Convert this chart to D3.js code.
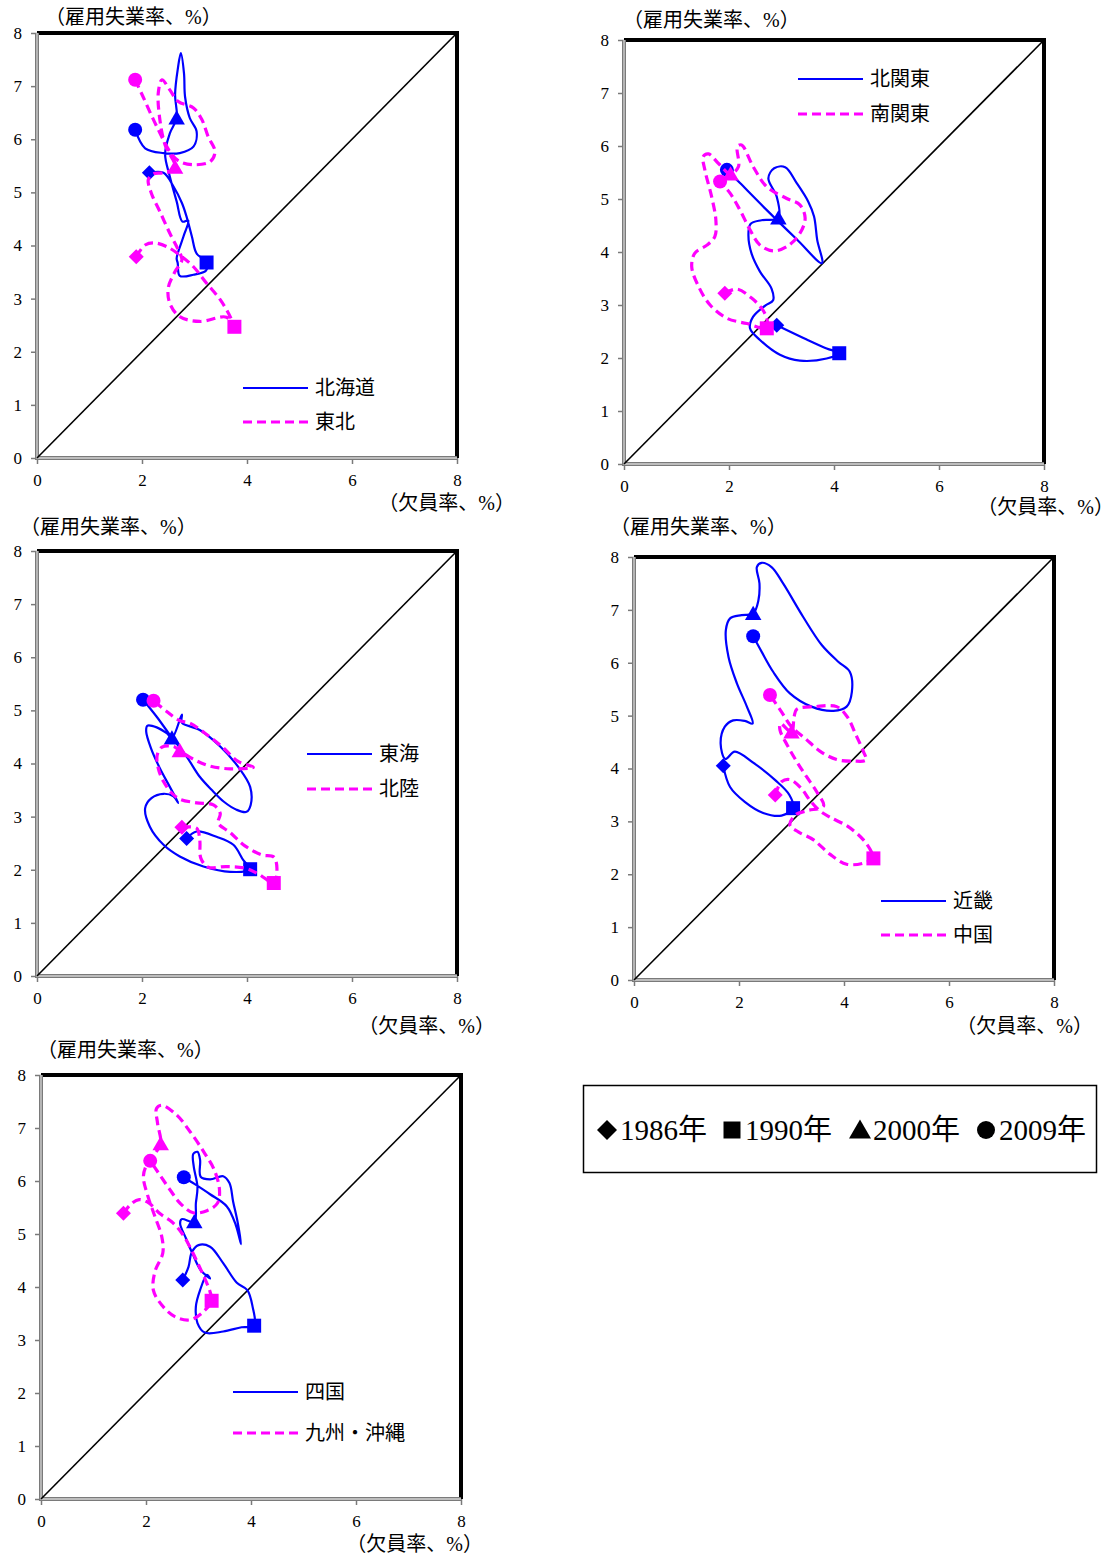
<!DOCTYPE html>
<html>
<head>
<meta charset="utf-8">
<script src="https://cdn.jsdelivr.net/npm/d3@7"></script>
<style>
  body { margin: 0; background: #fff; }
  svg text { font-family: "Liberation Serif", "Noto Sans CJK JP", serif; fill: #000; }
</style>
</head>
<body>
<div id="chart"></div>
<script>
// 欠員率 (x) と 雇用失業率 (y)
const hokkaidoV = [2.14,2.41,2.60,2.76,2.85,2.95,3.04,3.23,3.22,2.98,2.72,2.68,2.66,2.79,2.88,2.77,2.66,2.53,2.44,2.53,2.66,2.63,2.68,2.74,2.80,2.82,2.91,3.04,2.98,2.72,2.41,2.06,1.87];
const hokkaidoU = [5.37,5.37,5.11,4.80,4.54,4.17,3.85,3.68,3.53,3.45,3.43,3.67,3.76,4.17,4.47,4.45,4.83,5.30,5.72,6.11,6.40,6.84,7.31,7.62,7.24,6.80,6.40,6.15,5.86,5.74,5.74,5.83,6.18];
const hokkaidoMarks = [0, 7, 20, 32];

const tohokuV = [1.89,2.06,2.22,2.47,2.76,2.98,3.23,3.49,3.68,3.76,3.61,3.10,2.72,2.53,2.50,2.63,2.76,2.69,2.53,2.34,2.18,2.12,2.22,2.41,2.63,2.44,2.34,2.31,2.38,2.53,2.69,2.98,3.14,3.26,3.39,3.30,2.98,2.72,2.57,2.28,2.02,1.87];
const tohokuU = [3.79,4.01,4.05,3.98,3.79,3.60,3.29,2.98,2.66,2.47,2.65,2.57,2.66,2.91,3.20,3.51,3.73,3.92,4.23,4.64,4.98,5.24,5.35,5.37,5.47,5.89,6.37,6.87,7.12,6.93,6.71,6.59,6.37,6.05,5.77,5.58,5.52,5.58,5.71,6.24,6.80,7.12];
const tohokuMarks = [0, 9, 24, 41];

const kitakantoV = [2.91,3.48,3.86,4.10,3.86,3.35,2.97,2.59,2.40,2.46,2.69,2.84,2.81,2.59,2.43,2.37,2.41,2.62,2.94,2.91,2.75,2.86,3.07,3.29,3.51,3.62,3.68,3.77,3.29,2.72,2.21,1.96];
const kitakantoU = [2.62,2.35,2.18,2.09,1.99,1.95,2.06,2.34,2.56,2.78,2.99,3.09,3.31,3.63,3.97,4.32,4.53,4.60,4.64,5.04,5.39,5.58,5.60,5.30,4.95,4.67,4.23,3.79,4.24,4.79,5.30,5.55];
const kitakantoMarks = [0, 3, 18, 31];

const minamikantoV = [1.92,2.15,2.43,2.62,2.72,2.72,2.34,1.96,1.64,1.42,1.29,1.35,1.58,1.73,1.75,1.67,1.54,1.51,1.61,1.80,2.03,2.18,2.16,2.24,2.46,2.72,3.10,3.35,3.45,3.35,3.10,2.84,2.59,2.40,2.21,2.02,1.83];
const minamikantoU = [3.22,3.30,3.13,2.94,2.75,2.56,2.65,2.75,3.00,3.35,3.72,3.98,4.13,4.29,4.60,5.04,5.55,5.80,5.85,5.67,5.47,5.61,5.99,6.02,5.61,5.23,5.01,4.89,4.64,4.35,4.10,4.02,4.13,4.42,4.79,5.11,5.33];
const minamikantoMarks = [0, 5, 20, 36];

const tokaiV = [2.85,3.04,3.42,3.74,3.93,4.06,3.68,3.17,2.72,2.41,2.15,2.06,2.18,2.41,2.60,2.69,2.53,2.34,2.17,2.08,2.10,2.28,2.47,2.57,2.76,2.76,3.10,3.49,3.83,4.06,4.07,3.99,3.80,3.56,3.34,3.10,2.85,2.53,2.28,2.02];
const tokaiU = [2.59,2.72,2.62,2.47,2.18,2.01,1.96,2.06,2.25,2.47,2.81,3.16,3.35,3.43,3.38,3.26,3.56,3.91,4.29,4.60,4.71,4.68,4.57,4.48,4.92,4.77,4.63,4.32,3.94,3.56,3.22,3.09,3.13,3.28,3.49,3.75,4.13,4.54,4.88,5.20];
const tokaiMarks = [0, 5, 23, 39];

const hokurikuV = [2.76,3.04,3.10,3.12,3.26,3.61,3.96,4.22,4.51,4.57,4.51,4.28,3.96,3.68,3.45,3.49,3.36,3.04,2.72,2.57,2.41,2.31,2.29,2.38,2.60,2.72,2.98,3.30,3.68,4.12,3.83,3.52,3.20,2.91,2.71,2.47,2.22];
const hokurikuU = [2.80,2.78,2.56,2.22,2.05,2.06,2.03,1.92,1.75,2.03,2.24,2.28,2.45,2.70,2.88,3.06,3.22,3.26,3.33,3.44,3.66,3.91,4.16,4.31,4.32,4.24,4.08,3.95,3.90,3.93,4.04,4.32,4.57,4.76,4.81,4.98,5.18];
const hokurikuMarks = [0, 8, 25, 36];

const kinkiV = [1.70,1.83,2.11,2.46,2.81,3.03,2.96,2.69,2.27,1.92,1.74,1.65,1.73,1.89,2.11,2.26,2.15,1.96,1.80,1.75,1.83,2.05,2.27,2.37,2.39,2.34,2.43,2.62,2.84,3.22,3.58,3.89,4.11,4.15,4.05,3.80,3.38,2.97,2.65,2.43,2.27];
const kinkiU = [4.05,3.65,3.37,3.16,3.11,3.25,3.50,3.78,4.11,4.32,4.18,4.47,4.79,4.91,4.90,4.85,5.17,5.61,6.11,6.62,6.84,6.90,6.93,7.18,7.50,7.81,7.89,7.81,7.50,6.87,6.33,6.02,5.83,5.45,5.17,5.09,5.17,5.42,5.83,6.21,6.50];
const kinkiMarks = [0, 5, 22, 40];

const chugokuV = [2.69,2.81,2.97,3.19,3.35,3.54,3.73,4.08,4.37,4.53,4.56,4.37,4.05,3.73,3.42,3.13,2.97,3.07,3.29,3.61,3.48,3.29,3.10,2.92,2.78,2.79,3.00,3.05,3.10,3.45,3.86,4.06,4.23,4.37,4.42,4.18,3.86,3.54,3.26,3.00,2.81,2.59];
const chugokuU = [3.50,3.75,3.79,3.62,3.40,3.20,3.08,2.90,2.65,2.41,2.30,2.21,2.19,2.38,2.65,2.80,2.93,3.12,3.20,3.29,3.56,3.84,4.13,4.44,4.73,4.85,4.69,4.98,5.12,5.17,5.17,4.98,4.63,4.32,4.16,4.14,4.17,4.33,4.57,4.79,5.07,5.39];
const chugokuMarks = [0, 10, 26, 41];

const shikokuV = [2.70,2.81,2.87,3.00,3.22,3.47,3.73,3.93,4.03,4.06,3.82,3.47,3.12,2.98,2.95,3.03,3.16,3.22,3.04,2.89,2.76,2.65,2.68,2.92,2.95,2.98,2.91,2.90,2.98,3.03,3.04,3.22,3.47,3.59,3.66,3.75,3.81,3.71,3.54,3.22,2.93,2.72];
const shikokuU = [4.13,4.38,4.65,4.79,4.76,4.45,4.08,3.94,3.63,3.27,3.24,3.16,3.14,3.32,3.63,3.94,4.23,4.16,4.32,4.62,4.92,5.20,5.28,5.23,5.58,5.89,6.27,6.51,6.55,6.40,6.08,6.03,6.09,5.96,5.61,5.20,4.81,5.17,5.52,5.75,5.94,6.07];
const shikokuMarks = [0, 9, 23, 41];

const kyushuV = [1.57,1.71,1.87,2.06,2.27,2.49,2.68,2.85,3.00,3.12,3.22,3.25,3.09,2.84,2.55,2.30,2.14,2.17,2.32,2.30,2.17,2.04,1.95,2.01,2.17,2.28,2.22,2.20,2.30,2.58,2.84,3.10,3.30,3.40,3.36,3.16,2.90,2.65,2.46,2.28,2.15,2.08];
const kyushuU = [5.39,5.56,5.65,5.58,5.38,5.23,5.02,4.73,4.42,4.16,3.91,3.74,3.53,3.38,3.44,3.66,3.94,4.29,4.64,4.95,5.33,5.70,6.08,6.30,6.52,6.70,7.09,7.37,7.43,7.25,6.93,6.55,6.21,5.83,5.58,5.44,5.40,5.58,5.83,6.09,6.28,6.38];
const kyushuMarks = [0, 11, 25, 41];

const markYears = ['1986年', '1990年', '2000年', '2009年'];
const markShapes = ['diamond', 'square', 'triangle', 'circle'];
const xTicks = [0, 2, 4, 6, 8];
const yTicks = [0, 1, 2, 3, 4, 5, 6, 7, 8];
const yTitle = '（雇用失業率、%）';
const xTitle = '（欠員率、%）';

const W = 1115, H = 1555;
const BLUE = '#0000ff', PINK = '#ff00ff';
const FONT = '"Liberation Serif", "Noto Sans CJK JP", serif';

// layout of the five panels
const panels = [
  { left: 37, top: 33, w: 420, h: 425, yt: [45, 17], xtRight: 515, xtY: 503, leg: [243, 388, 422],
    series: [
      { name: '北海道', v: hokkaidoV, u: hokkaidoU, m: hokkaidoMarks },
      { name: '東北', v: tohokuV, u: tohokuU, m: tohokuMarks }] },
  { left: 624, top: 40, w: 420, h: 424, yt: [623, 20], xtRight: 1114, xtY: 507, leg: [798, 79, 114],
    series: [
      { name: '北関東', v: kitakantoV, u: kitakantoU, m: kitakantoMarks },
      { name: '南関東', v: minamikantoV, u: minamikantoU, m: minamikantoMarks }] },
  { left: 37, top: 551, w: 420, h: 425, yt: [20, 527], xtRight: 495, xtY: 1026, leg: [307, 754, 789],
    series: [
      { name: '東海', v: tokaiV, u: tokaiU, m: tokaiMarks },
      { name: '北陸', v: hokurikuV, u: hokurikuU, m: hokurikuMarks }] },
  { left: 634, top: 557, w: 420, h: 423, yt: [610, 527], xtRight: 1093, xtY: 1026, leg: [881, 901, 935],
    series: [
      { name: '近畿', v: kinkiV, u: kinkiU, m: kinkiMarks },
      { name: '中国', v: chugokuV, u: chugokuU, m: chugokuMarks }] },
  { left: 41, top: 1075, w: 420, h: 424, yt: [37, 1050], xtRight: 483, xtY: 1544, leg: [233, 1392, 1433],
    series: [
      { name: '四国', v: shikokuV, u: shikokuU, m: shikokuMarks },
      { name: '九州・沖縄', v: kyushuV, u: kyushuU, m: kyushuMarks }] }
];

const svg = d3.select('#chart').append('svg')
  .attr('width', W).attr('height', H)
  .style('display', 'block');

svg.append('rect').attr('width', W).attr('height', H).attr('fill', '#fff');

function markPath(shape, r) {
  if (shape === 'diamond') return `M0,${-r}L${r},0L0,${r}L${-r},0Z`;
  if (shape === 'square') return `M${-r},${-r}h${2 * r}v${2 * r}h${-2 * r}Z`;
  if (shape === 'triangle') return `M0,${-r * 1.05}L${r * 1.1},${r * 0.85}L${-r * 1.1},${r * 0.85}Z`;
  return d3.arc()({ innerRadius: 0, outerRadius: r, startAngle: 0, endAngle: 2 * Math.PI });
}
const markSize = { diamond: 7.5, square: 7, triangle: 7.5, circle: 7 };

function drawPanel(p) {
  const g = svg.append('g');
  const x = d3.scaleLinear().domain([0, 8]).range([p.left, p.left + p.w]);
  const y = d3.scaleLinear().domain([0, 8]).range([p.top + p.h, p.top]);
  const bottom = p.top + p.h, right = p.left + p.w;

  // y axis
  g.append('g')
    .attr('transform', `translate(${p.left},0)`)
    .attr('font-family', FONT)
    .call(d3.axisLeft(y).tickValues(yTicks).tickSize(6).tickPadding(9).tickFormat(d3.format('d')))
    .call(a => a.select('.domain').remove())
    .call(a => a.selectAll('.tick line').attr('stroke', '#7a7a7a').attr('stroke-width', 1.5))
    .call(a => a.selectAll('.tick text').style('font-size', '17px').style('font-family', FONT));

  // x axis
  g.append('g')
    .attr('transform', `translate(0,${bottom})`)
    .call(d3.axisBottom(x).tickValues(xTicks).tickSize(6).tickPadding(10).tickFormat(d3.format('d')))
    .call(a => a.select('.domain').remove())
    .call(a => a.selectAll('.tick line').attr('stroke', '#7a7a7a').attr('stroke-width', 1.5))
    .call(a => a.selectAll('.tick text').style('font-size', '17px').style('font-family', FONT));

  // frame: heavy black top/right, grey double left/bottom
  g.append('path')
    .attr('d', `M${p.left},${p.top}H${right}V${bottom}`)
    .attr('fill', 'none').attr('stroke', '#000').attr('stroke-width', 4);
  g.append('path')
    .attr('d', `M${p.left},${p.top}V${bottom}H${right}`)
    .attr('fill', 'none').attr('stroke', '#7a7a7a').attr('stroke-width', 4);
  g.append('path')
    .attr('d', `M${p.left},${p.top}V${bottom}H${right}`)
    .attr('fill', 'none').attr('stroke', '#d4d4d4').attr('stroke-width', 1.3);

  // 45 degree line
  g.append('line')
    .attr('x1', x(0)).attr('y1', y(0)).attr('x2', x(8)).attr('y2', y(8))
    .attr('stroke', '#000').attr('stroke-width', 1.6);

  // axis titles
  g.append('text').attr('x', p.yt[0]).attr('y', p.yt[1] + 7)
    .style('font-size', '20px').text(yTitle);
  g.append('text').attr('x', p.xtRight).attr('y', p.xtY + 7)
    .attr('text-anchor', 'end').style('font-size', '20px').text(xTitle);

  p.series.forEach((s, k) => {
    const color = k === 0 ? BLUE : PINK;
    const path = d3.line()
      .x(i => x(s.v[i]))
      .y(i => y(s.u[i]))
      .curve(d3.curveCatmullRom.alpha(0.5));
    g.append('path')
      .attr('d', path(d3.range(s.v.length)))
      .attr('fill', 'none')
      .attr('stroke', color)
      .attr('stroke-width', k === 0 ? 2.2 : 3.2)
      .attr('stroke-dasharray', k === 0 ? null : '9,5')
      .attr('stroke-linejoin', 'round');

    g.selectAll(null)
      .data(s.m.map((idx, j) => ({ idx, shape: markShapes[j] })))
      .join('path')
      .attr('transform', d => `translate(${x(s.v[d.idx])},${y(s.u[d.idx])})`)
      .attr('d', d => markPath(d.shape, markSize[d.shape]))
      .attr('fill', color);

    // series legend
    const ly = p.leg[1 + k];
    g.append('line')
      .attr('x1', p.leg[0]).attr('x2', p.leg[0] + 65)
      .attr('y1', ly).attr('y2', ly)
      .attr('stroke', color)
      .attr('stroke-width', k === 0 ? 2.2 : 3.2)
      .attr('stroke-dasharray', k === 0 ? null : '9,5');
    g.append('text')
      .attr('x', p.leg[0] + 72).attr('y', ly + 7)
      .style('font-size', '20px')
      .text(s.name);
  });
}

panels.forEach(drawPanel);

// year-marker legend
const lg = svg.append('g');
lg.append('rect')
  .attr('x', 583.5).attr('y', 1085.5).attr('width', 513).attr('height', 87)
  .attr('fill', '#fff').attr('stroke', '#000').attr('stroke-width', 1.5);

const legItems = [607, 732, 860, 986];
const legSize = { diamond: 10, square: 8.5, triangle: 10, circle: 9 };
markYears.forEach((label, j) => {
  const cx = legItems[j];
  lg.append('path')
    .attr('transform', `translate(${cx},1130)`)
    .attr('d', markPath(markShapes[j], legSize[markShapes[j]]))
    .attr('fill', '#000');
  lg.append('text')
    .attr('x', cx + 13).attr('y', 1130 + 10)
    .style('font-size', '29px')
    .text(label);
});
</script>
</body>
</html>
